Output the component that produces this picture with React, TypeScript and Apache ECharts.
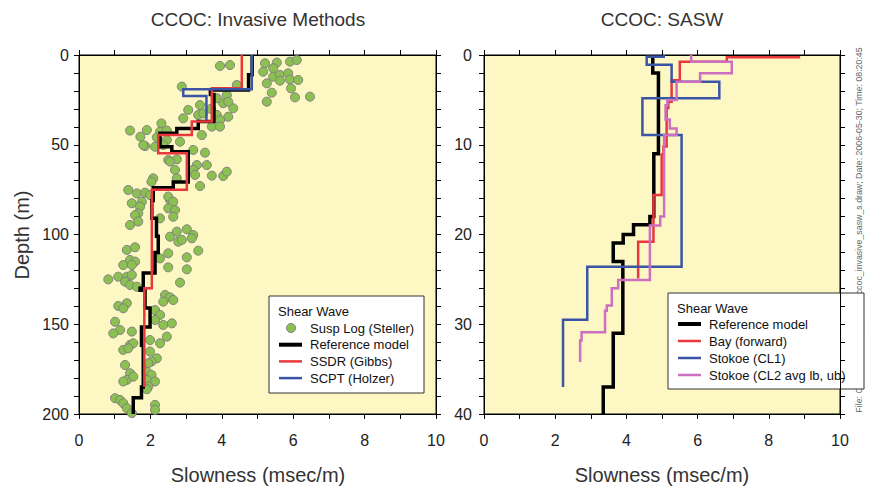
import React, { useEffect, useRef } from 'react';
import * as echarts from 'echarts';

// ---------- tick labels ----------
const xTickLabels = [0, 2, 4, 6, 8, 10];
const leftDepthLabels = [0, 50, 100, 150, 200];
const rightDepthLabels = [0, 10, 20, 30, 40];

// ---------- left panel: invasive methods ([slowness msec/m, depth m]) ----------
const suspLogSteller: [number, number][] = [
  [3.95, 6.1], [4.23, 5.6], [5.21, 4.6], [5.54, 4.2], [5.91, 3.7], [6.1, 2.8], [5.16, 9.3], [5.44, 7.4],
  [5.44, 12.1], [5.63, 11.1], [5.86, 10.2], [5.63, 14.3], [5.91, 13.6], [6.14, 13.9], [5.26, 15.8], [4.42, 16.7],
  [5.4, 21], [5.94, 18.6], [6.05, 23.6], [6.47, 23.2], [5.26, 26], [4.14, 22.3], [4.04, 26.9], [4.32, 29.7],
  [4.18, 34.4], [3.86, 33.4], [3.95, 36.2], [3.06, 30.6], [3.39, 27.9], [3.34, 33.4], [2.92, 35.3], [2.31, 38.1],
  [1.43, 42.1], [1.9, 41.8], [2.27, 42.7], [2.46, 42.1], [2.18, 45.9], [2.46, 47.4], [2.83, 48.3], [1.85, 50.7],
  [2.13, 51.1], [2.36, 50.1], [3.2, 52.9], [3.53, 54.4], [2.5, 58.5], [2.74, 58.1], [3.3, 61.3], [3.58, 61.3],
  [3.2, 64], [2.69, 64], [2.08, 68.7], [3.72, 67.2], [4.04, 67.4], [4.14, 65],
  [3.86, 24.1], [4.18, 26], [3.48, 32.5], [3.72, 39.9], [3.95, 39.9], [3.44, 44.6], [2.88, 17.6], [3.7, 30],
  [1.8, 50.2], [1.72, 45.5], [2.55, 59.4],
  [2.74, 68.7], [3.25, 66.8], [3.39, 73], [2.03, 70.6], [1.38, 75.2], [1.62, 77.1], [1.85, 76.7], [1.99, 78],
  [1.48, 82.6], [1.76, 81.7], [1.71, 84.5], [1.66, 88.2], [1.57, 89.2], [1.43, 94.7], [1.66, 92.8], [2.55, 80.8],
  [2.5, 78.9], [2.64, 81.7], [2.5, 85.4], [2.69, 86.4], [2.64, 90.1], [2.27, 91], [2.74, 98.4], [3.02, 97.1],
  [3.2, 100.3], [3.16, 102.1], [2.55, 101.2], [2.78, 104], [2.88, 103], [3.34, 109], [2.5, 110.5], [2.27, 113.3],
  [3.02, 112.7], [1.34, 108.6], [1.57, 107.1], [1.43, 114.2], [1.57, 115.1], [1.24, 117], [1.48, 117], [2.5, 118.3],
  [3.02, 119.4], [0.82, 125], [1.1, 123.5], [1.34, 123.5], [1.48, 122.5], [1.29, 126.3], [1.43, 128.1], [1.62, 129.1],
  [2.83, 126.8], [2.41, 133.7], [2.55, 135],
  [1.1, 139.8], [1.34, 138.3], [1.24, 141.1], [1.01, 148.6], [1.15, 153.2], [0.96, 155.1], [1.48, 154.1], [1.43, 161.5],
  [1.52, 160.6], [1.24, 164.3], [1.38, 163.4], [2.64, 136.5], [2.36, 137.4], [2.13, 142.1], [2.27, 144.8], [2.13, 147.6],
  [2.36, 150.4], [2.6, 149.5], [2.46, 156.9], [1.99, 158.8], [2.27, 160.6], [1.99, 165.2], [2.18, 169], [2.03, 170.8],
  [1.94, 171.7], [1.9, 176.4], [2.03, 178.2], [1.9, 181], [2.13, 181.9], [1.94, 184.7], [1.29, 172.7], [1.43, 177.3],
  [1.34, 181], [1.24, 181.9], [1.52, 179.2], [1.01, 191.2], [1.15, 192.2], [1.24, 194], [1.34, 196.8], [2.13, 194.9],
  [2.13, 197.7], [1.48, 199.5], [1.9, 186.2],
];

const referenceLeft: [number, number][] = [
  [4.85, 0], [4.85, 11], [4.75, 11], [4.75, 19.5], [3.68, 19.5], [3.68, 22], [3.78, 22], [3.78, 37.1],
  [3.34, 37.1], [3.34, 40.9], [2.74, 40.9], [2.74, 43.6], [2.27, 43.6], [2.27, 51.1], [2.6, 51.1], [2.6, 53.9],
  [3.06, 53.9], [3.06, 70.7], [2.64, 70.7], [2.64, 74], [2.08, 74], [2.08, 81], [2.04, 81], [2.04, 91],
  [2.17, 91], [2.17, 101], [2.22, 101], [2.22, 110], [2.13, 110], [2.13, 121.5], [1.8, 121.5], [1.8, 130],
  [1.71, 130], [1.71, 131], [1.85, 131], [1.85, 141], [1.99, 141], [1.99, 151.5], [1.75, 151.5], [1.75, 161.7],
  [1.8, 161.7], [1.8, 185], [1.75, 185], [1.75, 191], [1.52, 191], [1.52, 200],
];

const ssdrGibbs: [number, number][] = [
  [4.56, 0], [4.56, 18.5], [3.72, 18.5], [3.72, 37], [3.16, 37], [3.16, 44.5], [2.22, 44.5], [2.22, 54.7],
  [3.02, 54.7], [3.02, 75], [2.04, 75], [2.04, 130], [1.83, 130], [1.83, 185],
];

const scptHolzer: [number, number][] = [
  [4.84, 0], [4.84, 19.1], [2.92, 19.1], [2.92, 22.8], [3.57, 22.8], [3.57, 36.2],
];

// ---------- right panel: SASW ----------
const referenceRight: [number, number][] = [
  [4.74, 0], [4.74, 2], [4.9, 2], [4.9, 11], [4.77, 11], [4.77, 18], [4.66, 18], [4.66, 18.9],
  [4.2, 18.9], [4.2, 20], [3.91, 20], [3.91, 20.95], [3.63, 20.95], [3.63, 23], [3.9, 23], [3.9, 31],
  [3.63, 31], [3.63, 37], [3.35, 37], [3.35, 40],
];

const bayForward: [number, number][] = [
  [8.88, 0.25], [6.82, 0.25], [6.82, 0.75], [5.5, 0.75], [5.5, 2.8], [5.27, 2.8], [5.27, 5.2], [5.18, 5.2],
  [5.18, 5.9], [5.13, 5.9], [5.13, 10.2], [5.04, 10.2], [5.04, 11.1], [4.99, 11.1], [4.99, 15.6], [4.76, 15.6],
  [4.76, 20.8], [4.33, 20.8], [4.33, 24.9],
];

const stokoeCL1: [number, number][] = [
  [5.05, 0], [5.05, 0.2], [4.57, 0.2], [4.57, 1.1], [5.27, 1.1], [5.27, 2.97], [6.61, 2.97], [6.61, 4.83],
  [4.45, 4.83], [4.45, 8.91], [5.55, 8.91], [5.55, 23.6], [2.9, 23.6], [2.9, 29.5], [2.22, 29.5], [2.22, 37],
];

const stokoeCL2: [number, number][] = [
  [5.82, 0], [5.82, 0.75], [6.96, 0.75], [6.96, 2.04], [6.07, 2.04], [6.07, 2.97], [5.41, 2.97], [5.41, 5.0],
  [5.15, 5.0], [5.15, 5.6], [5.1, 5.6], [5.1, 7.2], [5.22, 7.2], [5.22, 8.2], [5.41, 8.2], [5.41, 8.9],
  [5.06, 8.9], [5.06, 18.0], [4.95, 18.0], [4.95, 19.0], [4.66, 19.0], [4.66, 25.07], [3.77, 25.07], [3.77, 26.0],
  [3.59, 26.0], [3.59, 27.9], [3.45, 27.9], [3.45, 28.5], [3.4, 28.5], [3.4, 30.9], [2.74, 30.9], [2.74, 31.8],
  [2.7, 31.8], [2.7, 34.2],
];

const FONT = "'Liberation Sans', Arial, sans-serif";
const BG = '#fcf7c3';
const C_BLACK = '#000000';
const C_RED = '#e8383c';
const C_BLUE = '#3b55a6';
const C_MAG = '#cc6fc0';
const C_GREEN = '#8cc152';

function xAxisDef(gridIndex: number, position: 'top' | 'bottom', showLabels: boolean) {
  return {
    type: 'value', gridIndex, position, min: 0, max: 10, interval: 1,
    axisLine: { show: true, onZero: false, lineStyle: { color: '#000', width: 1 } },
    axisTick: { show: true, inside: false, length: 5, lineStyle: { color: '#000', width: 1 } },
    axisLabel: {
      show: showLabels, margin: 18, fontSize: 16, color: '#222', fontFamily: FONT,
      showMinLabel: true, showMaxLabel: true,
      formatter: (v: number) => (xTickLabels.includes(v) ? String(v) : ''),
    },
    splitLine: { show: false },
  };
}

function yAxisDef(gridIndex: number, position: 'left' | 'right', max: number, interval: number, labels: number[] | null, margin: number) {
  return {
    type: 'value', gridIndex, position, inverse: true, min: 0, max, interval,
    axisLine: { show: true, onZero: false, lineStyle: { color: '#000', width: 1 } },
    axisTick: { show: true, inside: false, length: 5, lineStyle: { color: '#000', width: 1 } },
    axisLabel: {
      show: !!labels, margin, fontSize: 16, color: '#222', fontFamily: FONT,
      showMinLabel: true, showMaxLabel: true,
      formatter: (v: number) => (labels && labels.includes(v) ? String(v) : ''),
    },
    splitLine: { show: false },
  };
}

function stepLine(name: string, data: [number, number][], color: string, width: number, axis: number, z: number) {
  return {
    name, type: 'line', data, xAxisIndex: axis, yAxisIndex: axis,
    symbol: 'none', showSymbol: false, clip: true, z,
    lineStyle: { color, width, join: 'miter', cap: 'butt' },
    emphasis: { disabled: true },
  };
}

type LegendItem = { name: string; kind: 'dot' | 'line'; color: string; width: number };

function legendGraphic(x: number, y: number, w: number, h: number, items: LegendItem[], rowStart: number, rowStep: number) {
  const children: any[] = [
    { type: 'rect', shape: { x, y, width: w, height: h }, style: { fill: '#fff', stroke: '#333', lineWidth: 1 } },
    { type: 'text', x: x + 9, y: y + 15, style: { text: 'Shear Wave', fontSize: 13, fontFamily: FONT, fill: '#111', verticalAlign: 'middle' } },
  ];
  items.forEach((it, i) => {
    const cy = y + rowStart + i * rowStep;
    if (it.kind === 'dot') {
      children.push({ type: 'circle', shape: { cx: x + 22, cy, r: 4.5 }, style: { fill: it.color, stroke: '#808080', lineWidth: 1 } });
    } else {
      children.push({ type: 'line', shape: { x1: x + 10, y1: cy, x2: x + 33, y2: cy }, style: { stroke: it.color, lineWidth: it.width } });
    }
    children.push({ type: 'text', x: x + 41, y: cy, style: { text: it.name, fontSize: 13, fontFamily: FONT, fill: '#111', verticalAlign: 'middle' } });
  });
  return { type: 'group', z: 100, children };
}

export default function App() {
  const ref = useRef<HTMLDivElement>(null);
  useEffect(() => {
    const chart = echarts.init(ref.current!, null, { renderer: 'svg' });
    const option: any = {
      animation: false,
      backgroundColor: '#ffffff',
      grid: [
        { left: 79, top: 55, width: 357, height: 359, show: true, backgroundColor: BG, borderColor: '#000', borderWidth: 1 },
        { left: 484, top: 55, width: 356, height: 359, show: true, backgroundColor: BG, borderColor: '#000', borderWidth: 1 },
      ],
      xAxis: [
        xAxisDef(0, 'bottom', true),
        xAxisDef(0, 'top', false),
        xAxisDef(1, 'bottom', true),
        xAxisDef(1, 'top', false),
      ],
      yAxis: [
        yAxisDef(0, 'left', 200, 10, leftDepthLabels, 10),
        yAxisDef(0, 'right', 200, 10, null, 10),
        yAxisDef(1, 'left', 40, 2, rightDepthLabels, 12),
        yAxisDef(1, 'right', 40, 2, null, 10),
      ],
      series: [
        {
          name: 'Susp Log (Steller)', type: 'scatter', data: suspLogSteller, xAxisIndex: 0, yAxisIndex: 0,
          symbol: 'circle', symbolSize: 9, z: 2,
          itemStyle: { color: C_GREEN, borderColor: '#808080', borderWidth: 1, opacity: 1 },
          emphasis: { disabled: true },
        },
        stepLine('Reference model', referenceLeft, C_BLACK, 3.5, 0, 3),
        stepLine('SSDR (Gibbs)', ssdrGibbs, C_RED, 2.5, 0, 4),
        stepLine('SCPT (Holzer)', scptHolzer, C_BLUE, 2.5, 0, 5),
        stepLine('Reference model', referenceRight, C_BLACK, 3.5, 2, 3),
        stepLine('Bay (forward)', bayForward, C_RED, 2.5, 2, 4),
        stepLine('Stokoe (CL1)', stokoeCL1, C_BLUE, 2.5, 2, 5),
        stepLine('Stokoe (CL2 avg lb, ub)', stokoeCL2, C_MAG, 2.5, 2, 6),
      ],
      graphic: [
        { type: 'text', x: 258, y: 19, style: { text: 'CCOC: Invasive Methods', fontSize: 19, fontFamily: FONT, fill: '#333', align: 'center', verticalAlign: 'middle' } },
        { type: 'text', x: 662, y: 19, style: { text: 'CCOC: SASW', fontSize: 19, fontFamily: FONT, fill: '#333', align: 'center', verticalAlign: 'middle' } },
        { type: 'text', x: 258, y: 475, style: { text: 'Slowness (msec/m)', fontSize: 20, fontFamily: FONT, fill: '#333', align: 'center', verticalAlign: 'middle' } },
        { type: 'text', x: 662, y: 475, style: { text: 'Slowness (msec/m)', fontSize: 20, fontFamily: FONT, fill: '#333', align: 'center', verticalAlign: 'middle' } },
        { type: 'text', x: 22, y: 235, rotation: Math.PI / 2, style: { text: 'Depth (m)', fontSize: 20, fontFamily: FONT, fill: '#333', align: 'center', verticalAlign: 'middle' } },
        { type: 'text', x: 859, y: 230, rotation: Math.PI / 2, style: { text: 'File: C:\\ccoc\\modeling\\papers\\ccoc_invasive_sasw_s.draw; Date: 2006-05-30; Time: 08:20:45', fontSize: 8.8, fontFamily: FONT, fill: '#666', align: 'center', verticalAlign: 'middle' } },
        legendGraphic(269, 296, 155, 97, [
          { name: 'Susp Log (Steller)', kind: 'dot', color: C_GREEN, width: 0 },
          { name: 'Reference model', kind: 'line', color: C_BLACK, width: 4 },
          { name: 'SSDR (Gibbs)', kind: 'line', color: C_RED, width: 2.5 },
          { name: 'SCPT (Holzer)', kind: 'line', color: C_BLUE, width: 2.5 },
        ], 32, 16.7),
        legendGraphic(668, 293, 196, 96, [
          { name: 'Reference model', kind: 'line', color: C_BLACK, width: 4 },
          { name: 'Bay (forward)', kind: 'line', color: C_RED, width: 2.5 },
          { name: 'Stokoe (CL1)', kind: 'line', color: C_BLUE, width: 2.5 },
          { name: 'Stokoe (CL2 avg lb, ub)', kind: 'line', color: C_MAG, width: 2.5 },
        ], 31, 17),
      ],
    };
    chart.setOption(option);
    return () => chart.dispose();
  }, []);
  return <div ref={ref} style={{ position: 'absolute', left: 0, top: 0, width: 870, height: 487 }} />;
}
